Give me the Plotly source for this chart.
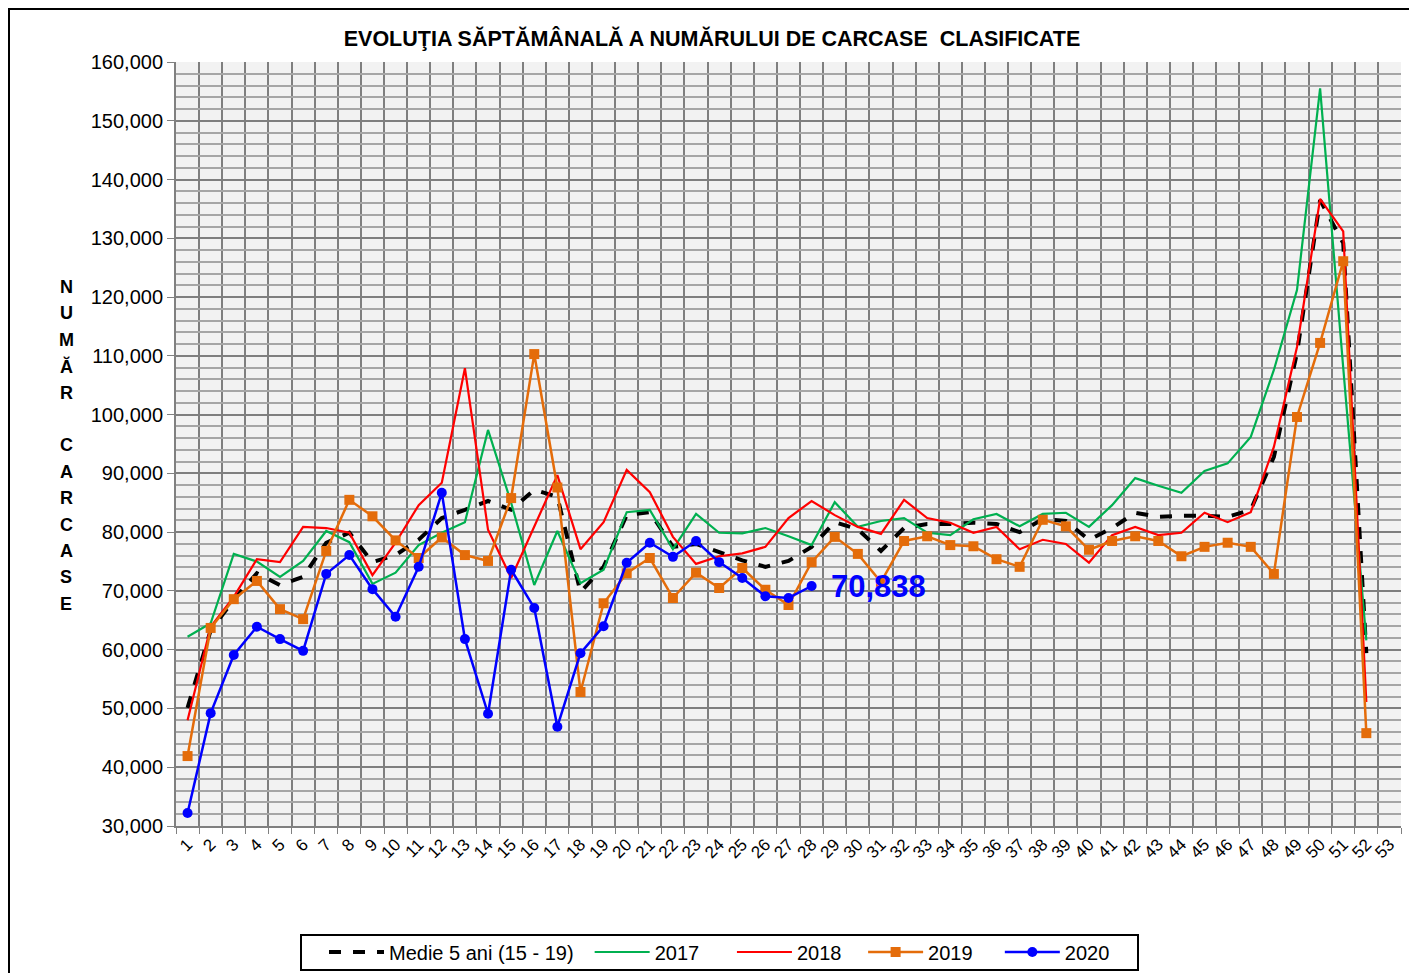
import plotly.graph_objects as go

weeks = list(range(1, 54))
week_labels = [str(w) for w in weeks]

medie = [50100, 63300, 68500, 73000, 71000, 72400, 78200, 79900, 74900, 76100,
         78700, 82400, 83800, 85300, 83800, 87200, 86000, 69800, 74100, 82900,
         83400, 77500, 78000, 76600, 75200, 74100, 75100, 77500, 81700, 80500,
         76800, 80700, 81400, 81400, 81600, 81400, 80000, 82200, 81900, 78700,
         80700, 83300, 82600, 82800, 82800, 82600, 83800, 92800, 110500, 136500,
         129200, 59400]

y2017 = [62200, 64500, 76300, 75000, 72400, 75100, 80200, 78300, 71200, 73100,
         77800, 79900, 81700, 97400, 85000, 71000, 80200, 71300, 73600, 83400,
         83800, 77100, 83100, 79900, 79800, 80700, 79300, 77800, 85100, 80900,
         81900, 82400, 79900, 79500, 82200, 83100, 81000, 83100, 83300, 80900,
         84600, 89200, 87900, 86700, 90400, 91700, 96200, 107600, 121200, 155500,
         108000, 61600]

y2018 = [48000, 63900, 69000, 75400, 74900, 80900, 80700, 79900, 72700, 78200,
         84600, 88400, 107900, 80400, 72200, 80900, 89700, 77100, 81700, 90600,
         86800, 79200, 74600, 75900, 76400, 77500, 82400, 85300, 82900, 80900,
         79700, 85500, 82400, 81600, 79900, 80900, 77100, 78700, 78000, 74800,
         79500, 80900, 79500, 79900, 83300, 81700, 83400, 94500, 111500, 136700,
         131200, 51100]

y2019 = [41900, 63700, 68600, 71700, 66900, 65200, 76800, 85500, 82700, 78600,
         75600, 79100, 76100, 75100, 85800, 110300, 87600, 52800, 67900, 73000,
         75600, 68800, 73100, 70500, 73900, 70200, 67600, 74900, 79200, 76300,
         71500, 78500, 79300, 77800, 77600, 75400, 74100, 82100, 81000, 77000,
         78500, 79300, 78500, 75900, 77500, 78200, 77500, 72900, 99600, 112200,
         126100, 45800]

y2020 = [32200, 49200, 59100, 63900, 61800, 59800, 72900, 76100, 70300, 65600,
         74100, 86700, 61800, 49100, 73600, 67100, 46900, 59400, 64000, 74800,
         78200, 75800, 78500, 74900, 72200, 69100, 68800, 70838]

series_names = ["Medie 5 ani (15 - 19)", "2017", "2018", "2019", "2020"]
title_text = "EVOLUŢIA SĂPTĂMÂNALĂ A NUMĂRULUI DE CARCASE  CLASIFICATE"
ytitle_letters = ["N", "U", "M", "Ă", "R", "", "C", "A", "R", "C", "A", "S", "E"]

FONT = "Arial, Liberation Sans, sans-serif"
NB = "\u00a0"
legend_pad = [2, 5, 3, 4, 0]  # trailing non-breaking spaces for legend spacing

# page body has an 8px margin; figure sized to fit the viewport
OFF = 8
W, H = 1417 - OFF, 973 - OFF
L, T = 176 - OFF, 62 - OFF
PR, PB = 1401 - OFF, 826 - OFF
R, B = W - PR, H - PB
pw, ph = PR - L, PB - T


def px_x(x):
    return (x - OFF - L) / pw


def px_y(y):
    return (PB - (y - OFF)) / ph


def lname(i):
    return series_names[i] + NB * legend_pad[i]


fig = go.Figure()
fig.add_trace(go.Scatter(x=weeks[:len(medie)], y=medie, name=lname(0), mode="lines",
                         line=dict(color="black", width=4, dash="dash")))
fig.add_trace(go.Scatter(x=weeks[:len(y2017)], y=y2017, name=lname(1), mode="lines",
                         line=dict(color="#00B050", width=2.2)))
fig.add_trace(go.Scatter(x=weeks[:len(y2018)], y=y2018, name=lname(2), mode="lines",
                         line=dict(color="#FF0000", width=2.2)))
fig.add_trace(go.Scatter(x=weeks[:len(y2019)], y=y2019, name=lname(3), mode="lines+markers",
                         line=dict(color="#E46C0A", width=2.5),
                         marker=dict(symbol="square", size=10, color="#E46C0A")))
fig.add_trace(go.Scatter(x=weeks[:len(y2020)], y=y2020, name=lname(4), mode="lines+markers",
                         line=dict(color="#0000FF", width=2.5),
                         marker=dict(symbol="circle", size=10, color="#0000FF")))

# last value label
fig.add_annotation(x=weeks[len(y2020) - 1], y=y2020[-1], text=f"{y2020[-1]:,}",
                   showarrow=False, xanchor="left", yanchor="middle", xshift=17,
                   font=dict(family=FONT, size=31, color="#0000FF", weight="bold"))

# vertical y-axis title (stacked letters)
top_letter_px, pitch = 287, 26.4
for i, ch in enumerate(ytitle_letters):
    if not ch:
        continue
    fig.add_annotation(x=px_x(66), y=px_y(top_letter_px + i * pitch),
                       xref="paper", yref="paper",
                       text=ch, showarrow=False, xanchor="center", yanchor="middle",
                       font=dict(family=FONT, size=18, color="black", weight="bold"))

# outer frame
fig.add_shape(type="rect", xref="paper", yref="paper",
              x0=px_x(9), x1=px_x(1440), y0=px_y(1010), y1=px_y(9),
              line=dict(color="black", width=2), fillcolor="rgba(0,0,0,0)", layer="below")
# legend box
fig.add_shape(type="rect", xref="paper", yref="paper",
              x0=px_x(301), x1=px_x(1138), y0=px_y(970), y1=px_y(935),
              line=dict(color="black", width=2), fillcolor="white", layer="below")

fig.update_layout(
    width=W, height=H,
    margin=dict(l=L, r=R, t=T, b=B),
    paper_bgcolor="white",
    plot_bgcolor="#F2F2F2",
    title=dict(text=f"<b>{title_text}</b>", x=(712 - OFF) / W, xanchor="center",
               y=1 - (38 - OFF) / H, yanchor="middle",
               font=dict(family=FONT, size=21.5, color="black")),
    font=dict(family=FONT, color="black"),
    showlegend=True,
    legend=dict(orientation="h", xref="container", yref="container",
                x=(324 - OFF) / W, xanchor="left",
                y=1 - (952 - OFF) / H, yanchor="middle",
                borderwidth=0, bgcolor="rgba(0,0,0,0)",
                font=dict(family=FONT, size=20), itemwidth=55,
                traceorder="normal"),
    xaxis=dict(range=[0.5, 53.5], tickmode="array", tickvals=weeks, ticktext=week_labels,
               tickangle=-45, tickfont=dict(family=FONT, size=17),
               showgrid=False, zeroline=False, ticks="",
               showline=True, linecolor="#808080", linewidth=2,
               minor=dict(tick0=0.5, dtick=1, showgrid=True, gridcolor="#7F7F7F",
                          gridwidth=1.8, ticks="outside", ticklen=6, tickcolor="#808080")),
    yaxis=dict(range=[30000, 160000], dtick=10000, tickformat=",",
               tickfont=dict(family=FONT, size=20),
               showgrid=True, gridcolor="#7F7F7F", gridwidth=2, zeroline=False,
               ticks="outside", ticklen=7, tickcolor="#808080",
               showline=True, linecolor="#808080", linewidth=2,
               minor=dict(dtick=2000, showgrid=True, gridcolor="#A6A6A6", gridwidth=1.6)),
)

fig.write_html("out.html")
